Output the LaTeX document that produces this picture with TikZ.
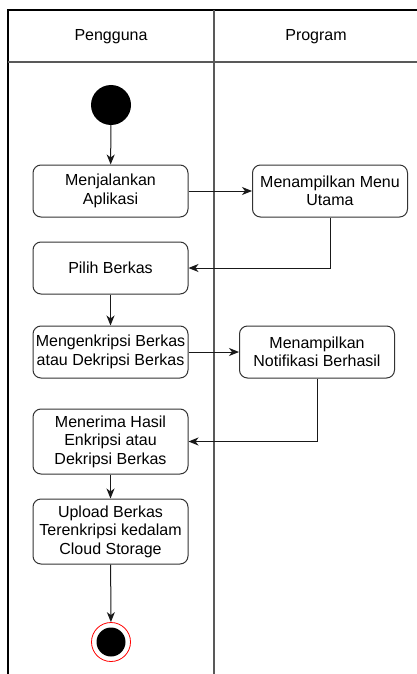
\documentclass[tikz,border=0pt]{standalone}
\usepackage{fontspec}
\setmainfont{Liberation Sans}
\usetikzlibrary{arrows.meta}

\tikzset{
  act/.style={draw=black!80, line width=1pt, rounded corners=8pt, minimum width=155pt, minimum height=52pt,
    align=center, inner sep=0pt, font=\fontsize{16}{18.5}\selectfont},
  flow/.style={draw=black!90, line width=1pt, -{Stealth[length=10pt,width=8pt,inset=3pt]}},
  lane/.style={line width=1.6pt},
  lanetitle/.style={font=\fontsize{16}{18.5}\selectfont}
}

\begin{document}
\begin{tikzpicture}[x=1pt,y=-1pt]
\useasboundingbox (0,0) rectangle (417,674);

% lanes
\draw[lane, black] (8,674) -- (8,10) -- (417,10);
\draw[lane, black!65] (8,62) -- (417,62);
\draw[lane, black!65] (214,10) -- (214,674);
\node[lanetitle] (user) at (111,37) {Pengguna};
\node[lanetitle] (prog) at (316,37) {Program};

% start / end
\node[circle, fill=black, minimum size=40pt, inner sep=0pt] (start) at (111,105) {};
\node[circle, draw=red, fill=white, line width=0.8pt, minimum size=39pt, inner sep=0pt] (stop) at (111,642) {};
\node[circle, fill=black, minimum size=29pt, inner sep=0pt] (stopin) at (111,642) {};

% activities
\node[act] (run) at (110.5,191) {Menjalankan\\Aplikasi};
\node[act] (menu) at (330,191) {Menampilkan Menu\\Utama};
\node[act] (pick) at (110.5,268) {Pilih Berkas};
\node[act] (crypt) at (110.5,352) {Mengenkripsi Berkas\\atau Dekripsi Berkas};
\node[act] (notif) at (317,352) {Menampilkan\\Notifikasi Berhasil};
\node[act, minimum height=65pt] (result) at (110.5,441.5) {Menerima Hasil\\Enkripsi atau\\Dekripsi Berkas};
\node[act, minimum height=65pt] (upload) at (110.5,531.5) {Upload Berkas\\Terenkripsi kedalam\\Cloud Storage};

% flows
\draw[flow] (start) -- (run);
\draw[flow] (run) -- (menu);
\draw[flow] (menu.south) |- (pick.east);
\draw[flow] (pick) -- (crypt);
\draw[flow] (crypt) -- (notif);
\draw[flow] (notif.south) |- (result.east);
\draw[flow] (result) -- (upload);
\draw[flow] (upload) -- (stop);
\end{tikzpicture}
\end{document}
